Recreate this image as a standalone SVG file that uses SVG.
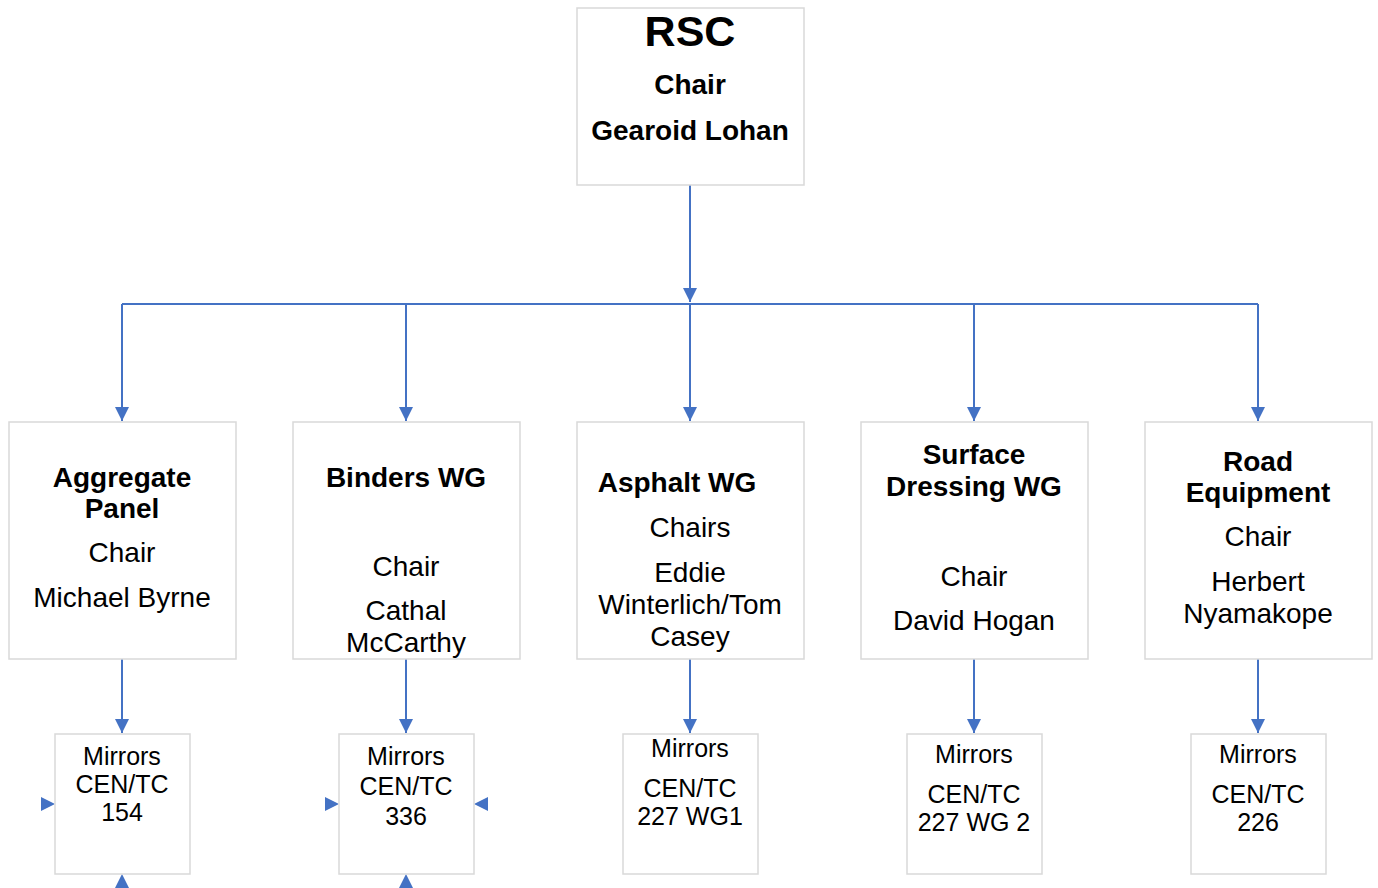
<svg xmlns="http://www.w3.org/2000/svg" width="1378" height="888" viewBox="0 0 1378 888">
<style>
.box{fill:#fff;stroke:#d9d9d9;stroke-width:1.5}
.t{font-family:"Liberation Sans",Arial,sans-serif;font-size:28px;fill:#000;text-anchor:middle}
.b{font-weight:bold}
.s{font-size:25px}
.big{font-size:43px;font-weight:bold}
.c{fill:none;stroke:#4472c4;stroke-width:2}
.ah{fill:#4472c4}
</style>
<defs>
<marker id="arr" markerUnits="userSpaceOnUse" markerWidth="14" markerHeight="14" viewBox="0 0 14 14" refX="14" refY="7" orient="auto">
<path d="M0,0 L14,7 L0,14 Z" fill="#4472c4"/>
</marker>
</defs>
<rect width="1378" height="888" fill="#fff"/>
<g id="connectors">
<path class="c" d="M690,185 V302" marker-end="url(#arr)"/>
<path class="c" d="M122,304 H1258"/>
<path class="c" d="M122,304 V421" marker-end="url(#arr)"/>
<path class="c" d="M406,304 V421" marker-end="url(#arr)"/>
<path class="c" d="M690,304 V421" marker-end="url(#arr)"/>
<path class="c" d="M974,304 V421" marker-end="url(#arr)"/>
<path class="c" d="M1258,304 V421" marker-end="url(#arr)"/>
<path class="c" d="M122,659 V733" marker-end="url(#arr)"/>
<path class="c" d="M406,659 V733" marker-end="url(#arr)"/>
<path class="c" d="M690,659 V733" marker-end="url(#arr)"/>
<path class="c" d="M974,659 V733" marker-end="url(#arr)"/>
<path class="c" d="M1258,659 V733" marker-end="url(#arr)"/>
<polygon class="ah" points="55,804 41,797 41,811"/>
<polygon class="ah" points="339,804 325,797 325,811"/>
<polygon class="ah" points="474,804 488,797 488,811"/>
<polygon class="ah" points="122,874 115,888 129,888"/>
<polygon class="ah" points="406,874 399,888 413,888"/>
</g>
<g id="rsc">
<rect class="box" x="577" y="8" width="227" height="177"/>
<text class="t big" x="690" y="46">RSC</text>
<text class="t b" x="690" y="94">Chair</text>
<text class="t b" x="690" y="140">Gearoid Lohan</text>
</g>
<g id="aggregate">
<rect class="box" x="9" y="422" width="227" height="237"/>
<text class="t b" x="122" y="487">Aggregate</text>
<text class="t b" x="122" y="518">Panel</text>
<text class="t" x="122" y="562">Chair</text>
<text class="t" x="122" y="607">Michael Byrne</text>
</g>
<g id="binders">
<rect class="box" x="293" y="422" width="227" height="237"/>
<text class="t b" x="406" y="487">Binders WG</text>
<text class="t" x="406" y="576">Chair</text>
<text class="t" x="406" y="620">Cathal</text>
<text class="t" x="406" y="652">McCarthy</text>
</g>
<g id="asphalt">
<rect class="box" x="577" y="422" width="227" height="237"/>
<text class="t b" x="677" y="492">Asphalt WG</text>
<text class="t" x="690" y="537">Chairs</text>
<text class="t" x="690" y="582">Eddie</text>
<text class="t" x="690" y="614">Winterlich/Tom</text>
<text class="t" x="690" y="646">Casey</text>
</g>
<g id="surface">
<rect class="box" x="861" y="422" width="227" height="237"/>
<text class="t b" x="974" y="464">Surface</text>
<text class="t b" x="974" y="496">Dressing WG</text>
<text class="t" x="974" y="586">Chair</text>
<text class="t" x="974" y="630">David Hogan</text>
</g>
<g id="road">
<rect class="box" x="1145" y="422" width="227" height="237"/>
<text class="t b" x="1258" y="471">Road</text>
<text class="t b" x="1258" y="502">Equipment</text>
<text class="t" x="1258" y="546">Chair</text>
<text class="t" x="1258" y="591">Herbert</text>
<text class="t" x="1258" y="623">Nyamakope</text>
</g>
<g id="tc154">
<rect class="box" x="55" y="734" width="135" height="140"/>
<text class="t s" x="122" y="765">Mirrors</text>
<text class="t s" x="122" y="793">CEN/TC</text>
<text class="t s" x="122" y="821">154</text>
</g>
<g id="tc336">
<rect class="box" x="339" y="734" width="135" height="140"/>
<text class="t s" x="406" y="765">Mirrors</text>
<text class="t s" x="406" y="795">CEN/TC</text>
<text class="t s" x="406" y="825">336</text>
</g>
<g id="tc227wg1">
<rect class="box" x="623" y="734" width="135" height="140"/>
<text class="t s" x="690" y="757">Mirrors</text>
<text class="t s" x="690" y="797">CEN/TC</text>
<text class="t s" x="690" y="825">227 WG1</text>
</g>
<g id="tc227wg2">
<rect class="box" x="907" y="734" width="135" height="140"/>
<text class="t s" x="974" y="763">Mirrors</text>
<text class="t s" x="974" y="803">CEN/TC</text>
<text class="t s" x="974" y="831">227 WG 2</text>
</g>
<g id="tc226">
<rect class="box" x="1191" y="734" width="135" height="140"/>
<text class="t s" x="1258" y="763">Mirrors</text>
<text class="t s" x="1258" y="803">CEN/TC</text>
<text class="t s" x="1258" y="831">226</text>
</g>
</svg>
